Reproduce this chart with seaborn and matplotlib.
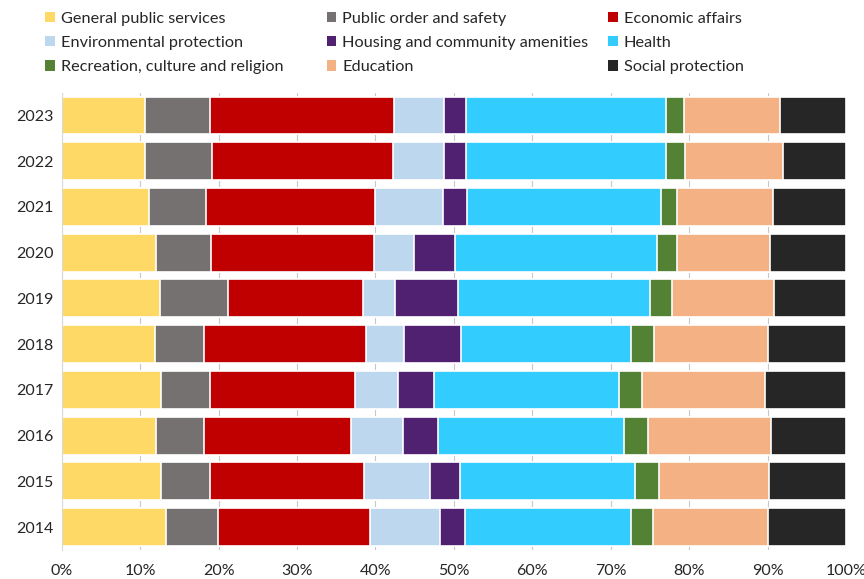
import matplotlib.pyplot as plt
import numpy as np
import pandas as pd
import seaborn as sns
from matplotlib.patches import Patch

years = ["2023", "2022", "2021", "2020", "2019", "2018", "2017", "2016", "2015", "2014"]

categories = [
    "General public services",
    "Public order and safety",
    "Economic affairs",
    "Environmental protection",
    "Housing and community amenities",
    "Health",
    "Recreation, culture and religion",
    "Education",
    "Social protection",
]

# shares in % of total spending, per year (2023 -> 2014)
general_public = [10.6, 10.6, 11.1, 12.0, 12.5, 11.9, 12.6, 12.0, 12.6, 13.3]
public_order = [8.3, 8.5, 7.3, 7.0, 8.7, 6.3, 6.3, 6.2, 6.3, 6.6]
economic = [23.4, 23.1, 21.5, 20.8, 17.2, 20.6, 18.5, 18.7, 19.7, 19.4]
environment = [6.4, 6.5, 8.7, 5.1, 4.1, 4.8, 5.5, 6.6, 8.4, 8.9]
housing = [2.9, 2.8, 3.1, 5.3, 8.0, 7.3, 4.5, 4.5, 3.8, 3.2]
health = [25.4, 25.6, 24.7, 25.7, 24.5, 21.7, 23.6, 23.7, 22.3, 21.2]
recreation = [2.3, 2.4, 2.1, 2.5, 2.8, 2.9, 3.0, 3.0, 3.0, 2.8]
education = [12.3, 12.4, 12.2, 11.9, 13.0, 14.6, 15.7, 15.7, 14.1, 14.7]
social = [8.4, 8.1, 9.3, 9.7, 9.2, 9.9, 10.3, 9.6, 9.8, 9.9]

colors = ["#FFD966", "#767171", "#C00000", "#BDD7EE", "#4F2170",
          "#33CCFF", "#548235", "#F4B183", "#262626"]

series = [general_public, public_order, economic, environment, housing,
          health, recreation, education, social]

df = pd.DataFrame(np.array(series).T, columns=categories)
df["year"] = years
cum = df[categories].cumsum(axis=1)
cum = cum.div(cum[categories[-1]], axis=0) * 100
cum["year"] = years

sns.set_style("white")
plt.rcParams["font.family"] = ["Lato", "DejaVu Sans"]

fig = plt.figure(figsize=(8.64, 5.79), dpi=100)
ax = fig.add_axes([0.0714, 0.05, 0.9079, 0.79])

# draw cumulative totals from the outermost layer inwards
for cat, col in reversed(list(zip(categories, colors))):
    sns.barplot(data=cum, y="year", x=cat, order=years, orient="h",
                color=col, saturation=1, width=0.83,
                edgecolor="white", linewidth=1.2, ax=ax, zorder=2)

ax.set_xlim(0, 100)
ax.set_xticks(np.arange(0, 101, 10))
ax.set_xticklabels([f"{v}%" for v in range(0, 101, 10)])
ax.set_xlabel("")
ax.set_ylabel("")
ax.grid(axis="x", color="#c8c8c8", linewidth=0.8, zorder=0)
ax.set_axisbelow(True)
for s in ["top", "right", "bottom"]:
    ax.spines[s].set_visible(False)
ax.spines["left"].set_color("#d9d9d9")
ax.tick_params(axis="x", length=0, labelsize=11.5, colors="#262626", pad=10)
ax.tick_params(axis="y", length=0, labelsize=11.5, colors="#262626", pad=6)

handles = [Patch(facecolor=c, edgecolor="none") for c in colors]
col_x = [0.039, 0.365, 0.691]
for i, x0 in enumerate(col_x):
    idx = [i, i + 3, i + 6]
    leg = fig.legend([handles[j] for j in idx], [categories[j] for j in idx],
                     loc="upper left", bbox_to_anchor=(x0, 0.999), frameon=False,
                     handlelength=0.6, handleheight=0.6, handletextpad=0.35,
                     labelspacing=0.62, fontsize=11.7, borderaxespad=0.3)
    for t in leg.get_texts():
        t.set_color("#262626")

fig.savefig("out.png", dpi=100)
